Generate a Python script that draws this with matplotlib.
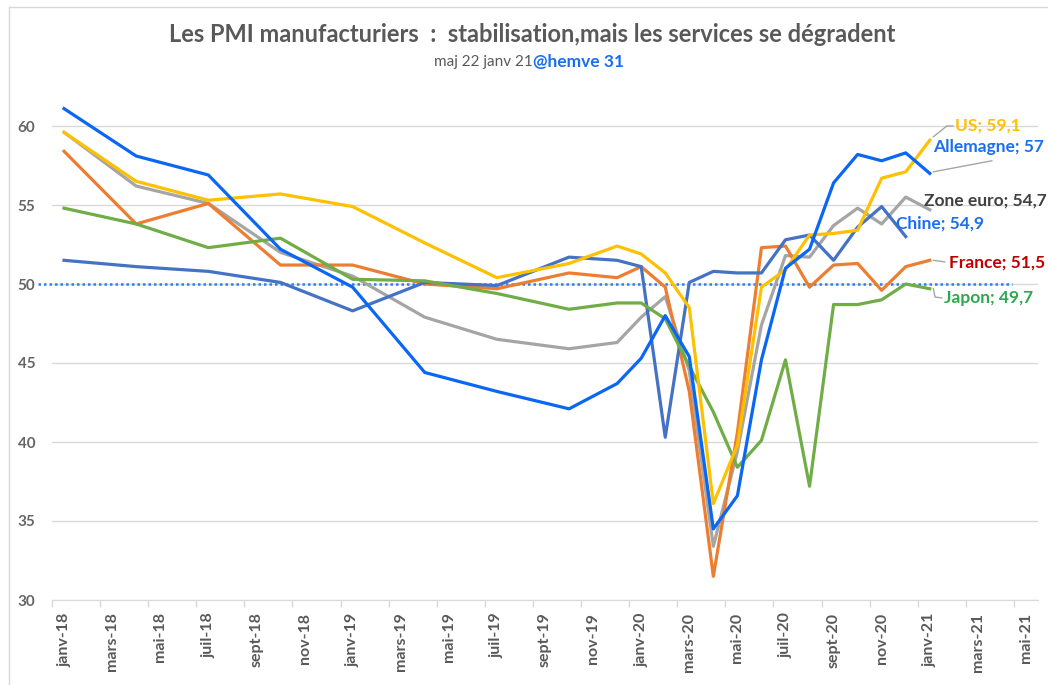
import matplotlib
matplotlib.use('Agg')
import matplotlib.pyplot as plt
from matplotlib.lines import Line2D
import numpy as np

plt.rcParams['font.family'] = ['Lato', 'DejaVu Sans']

# ---------------- data ----------------
dates = ['2018-01', '2018-04', '2018-07', '2018-10', '2019-01', '2019-04', '2019-07',
         '2019-10', '2019-12', '2020-01', '2020-02', '2020-03', '2020-04', '2020-05',
         '2020-06', '2020-07', '2020-08', '2020-09', '2020-10', '2020-11', '2020-12',
         '2021-01']

us = [59.6, 56.5, 55.3, 55.7, 54.9, 52.6, 50.4, 51.3, 52.4, 51.9, 50.7, 48.5, 36.1,
      39.8, 49.8, 50.9, 53.1, 53.2, 53.4, 56.7, 57.1, 59.1]
allemagne = [61.1, 58.1, 56.9, 52.2, 49.8, 44.4, 43.2, 42.1, 43.7, 45.3, 48.0, 45.4,
             34.5, 36.6, 45.2, 51.0, 52.2, 56.4, 58.2, 57.8, 58.3, 57.0]
zone_euro = [59.6, 56.2, 55.1, 52.0, 50.5, 47.9, 46.5, 45.9, 46.3, 47.9, 49.2, 44.5,
             33.4, 39.4, 47.4, 51.8, 51.7, 53.7, 54.8, 53.8, 55.5, 54.7]
chine = [51.5, 51.1, 50.8, 50.1, 48.3, 50.1, 49.9, 51.7, 51.5, 51.1, 40.3, 50.1,
         50.8, 50.7, 50.7, 52.8, 53.1, 51.5, 53.6, 54.9, 53.0, np.nan]
france = [58.4, 53.8, 55.1, 51.2, 51.2, 50.0, 49.7, 50.7, 50.4, 51.1, 49.8, 43.2,
          31.5, 40.6, 52.3, 52.4, 49.8, 51.2, 51.3, 49.6, 51.1, 51.5]
japon = [54.8, 53.8, 52.3, 52.9, 50.3, 50.2, 49.4, 48.4, 48.8, 48.8, 47.8, 44.8,
         41.9, 38.4, 40.1, 45.2, 37.2, 48.7, 48.7, 49.0, 50.0, 49.7]

label_texts = ['US; 59,1', 'Allemagne; 57', 'Zone euro; 54,7', 'Chine; 54,9',
               'France; 51,5', 'Japon; 49,7']

tick_labels = ['janv-18', 'mars-18', 'mai-18', 'juil-18', 'sept-18', 'nov-18',
               'janv-19', 'mars-19', 'mai-19', 'juil-19', 'sept-19', 'nov-19',
               'janv-20', 'mars-20', 'mai-20', 'juil-20', 'sept-20', 'nov-20',
               'janv-21', 'mars-21', 'mai-21']

threshold = 50

# ---------------- helpers ----------------
def month_index(s):
    y, m = s.split('-')
    return (int(y) - 2018) * 12 + int(m) - 1

x = np.array([month_index(d) for d in dates])

W, H = 1048, 685
fig = plt.figure(figsize=(W / 100, H / 100), dpi=100)
ax = fig.add_axes([52 / W, 1 - 600 / H, (1038 - 52) / W, (600 - 78.6) / H])

series = [
    ('Zone euro', zone_euro, '#A5A5A5'),
    ('France', france, '#ED7D31'),
    ('Chine', chine, '#4472C4'),
    ('Japon', japon, '#70AD47'),
    ('US', us, '#FFC000'),
    ('Allemagne', allemagne, '#0A66F5'),
]
for name, vals, col in series:
    ax.plot(x, vals, color=col, lw=2.3, solid_joinstyle='round', zorder=3)

ax.set_xlim(-0.5, 40.5)
ax.set_ylim(30, 63)

ax.set_yticks([30, 35, 40, 45, 50, 55, 60])
ax.yaxis.grid(True, color='#D9D9D9', lw=1)
ax.set_axisbelow(True)
for s in ['top', 'left', 'right']:
    ax.spines[s].set_visible(False)
ax.spines['bottom'].set_color('#D9D9D9')
ax.tick_params(axis='y', length=0, pad=12, labelsize=11, labelcolor='#666666')
for t in ax.get_yticklabels():
    t.set_fontweight('bold')

tick_pos = np.arange(0, 41, 2)
ax.set_xticks(tick_pos)
ax.set_xticklabels(tick_labels, rotation=90, fontsize=11.5, fontweight='bold',
                   color='#595959')
ax.tick_params(axis='x', which='major', length=0, pad=9)
ax.set_xticks(np.arange(-0.5, 40.6, 2), minor=True)
ax.tick_params(axis='x', which='minor', length=5, color='#D9D9D9', width=1)

# threshold dotted line
ax.plot([-1.1, 39.4], [threshold, threshold], color='#2F7BFF', lw=1.8,
        linestyle=(0, (1, 1.2)), clip_on=False, zorder=2)

# ---------------- labels ----------------
lab_cfg = [
    (label_texts[0], 37.05, 60.0, '#FFC000'),
    (label_texts[1], 36.15, 58.65, '#1A6FF0'),
    (label_texts[2], 35.75, 55.3, '#404040'),
    (label_texts[3], 34.6, 53.8, '#1A6FF0'),
    (label_texts[4], 36.8, 51.35, '#C00000'),
    (label_texts[5], 36.6, 49.1, '#2EA84F'),
]
for txt, lx, ly, col in lab_cfg:
    ax.text(lx, ly, txt, color=col, fontsize=12.5, fontweight='bold',
            ha='left', va='center', clip_on=False, zorder=5)

leader = '#A6A6A6'
leaders = [
    ([36.15, 36.71, 36.96], [59.32, 60.0, 60.0]),
    ([36.15, 38.58], [57.1, 57.8]),
    ([36.15, 36.62], [51.5, 51.4]),
    ([36.15, 36.22, 36.5], [49.7, 49.17, 49.12]),
]
for lx, ly in leaders:
    ax.plot(lx, ly, color=leader, lw=1, clip_on=False, zorder=4)

# ---------------- titles ----------------
fig.text(532 / W, 1 - 35 / H,
         'Les PMI manufacturiers  :  stabilisation,mais les services se dégradent',
         ha='center', va='center', fontsize=17, fontweight='bold', color='#595959')
fig.text(533 / W, 1 - 62 / H, 'maj 22 janv 21', ha='right', va='center',
         fontsize=11, color='#595959')
fig.text(533 / W, 1 - 62 / H, '@hemve 31', ha='left', va='center',
         fontsize=12.5, fontweight='bold', color='#1A6FF0')

# chart border
fig.add_artist(Line2D([9 / W, 9 / W], [0, 1 - 7 / H], transform=fig.transFigure,
                      color='#D9D9D9', lw=1))
fig.add_artist(Line2D([9 / W, 1], [1 - 7 / H, 1 - 7 / H], transform=fig.transFigure,
                      color='#D9D9D9', lw=1))

fig.savefig('out.png', dpi=100)
